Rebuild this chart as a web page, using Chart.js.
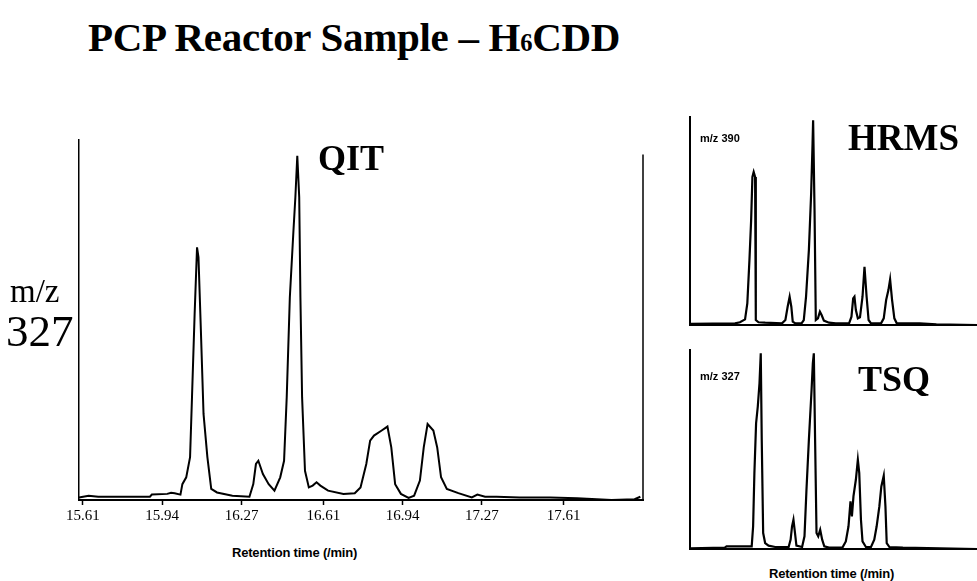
<!DOCTYPE html>
<html>
<head>
<meta charset="utf-8">
<script src="https://cdn.jsdelivr.net/npm/chart.js@4.4.0/dist/chart.umd.min.js"></script>
<style>
  body { margin: 0; background: #fff; }
  #page { position: relative; width: 977px; height: 581px; overflow: hidden; background: #fff; }
  canvas { position: absolute; }
  .lbl { position: absolute; line-height: 1; white-space: nowrap; color: #000; z-index: 2; }
  .serif { font-family: "Liberation Serif", "Times New Roman", serif; }
  .sans { font-family: "Liberation Sans", Arial, sans-serif; font-weight: bold; }
</style>
</head>
<body>
<div id="page">
  <div class="lbl serif" style="left:88px; top:17px; font-size:41px; font-weight:bold; letter-spacing:-0.3px;">PCP Reactor Sample – H<span style="font-size:0.6em;">6</span>CDD</div>
  <div class="lbl serif" style="left:318px; top:140px; font-size:36px; font-weight:bold;">QIT</div>
  <div class="lbl serif" style="left:848px; top:119px; font-size:37px; font-weight:bold;">HRMS</div>
  <div class="lbl serif" style="left:858px; top:361px; font-size:36px; font-weight:bold;">TSQ</div>
  <div class="lbl serif" style="left:10px; top:275px; font-size:33px;">m/z</div>
  <div class="lbl serif" style="left:6px; top:309px; font-size:45px;">327</div>
  <div class="lbl sans" style="left:700px; top:133px; font-size:11px;">m/z 390</div>
  <div class="lbl sans" style="left:700px; top:371px; font-size:11px;">m/z 327</div>
  <div class="lbl sans" style="left:232px; top:546px; font-size:13px; letter-spacing:-0.2px;">Retention time (/min)</div>
  <div class="lbl sans" style="left:769px; top:567px; font-size:13px; letter-spacing:-0.2px;">Retention time (/min)</div>

  <canvas id="qitChart" width="660" height="420" style="left:0px; top:120px;"></canvas>
  <canvas id="hrmsChart" width="307" height="240" style="left:670px; top:100px;"></canvas>
  <canvas id="tsqChart" width="307" height="225" style="left:670px; top:340px;"></canvas>
</div>
<script>
// QIT trace, m/z 327 (retention time in min, relative signal 0-100)
const qitTime = [
  15.594, 15.634, 15.674, 15.889, 15.897, 15.961, 15.977, 15.992, 16.016, 16.024,
  16.040, 16.056, 16.064, 16.075, 16.085, 16.091, 16.101, 16.112, 16.128, 16.144,
  16.168, 16.232, 16.303, 16.319, 16.330, 16.340, 16.359, 16.383, 16.407, 16.431,
  16.447, 16.458, 16.471, 16.486, 16.494, 16.502, 16.510, 16.515, 16.522, 16.534,
  16.550, 16.566, 16.582, 16.598, 16.630, 16.694, 16.741, 16.765, 16.789, 16.805,
  16.821, 16.853, 16.877, 16.893, 16.909, 16.933, 16.965, 16.988, 17.012, 17.028,
  17.044, 17.068, 17.084, 17.100, 17.124, 17.172, 17.228, 17.251, 17.283, 17.331,
  17.427, 17.554, 17.666, 17.809, 17.905, 17.929
];
const qitSignal = [
  0.7, 1.2, 0.9, 0.9, 1.5, 1.7, 2.0, 1.9, 1.5, 4.4,
  6.3, 11.9, 28.5, 51.7, 70.2, 67.4, 47.0, 23.9, 11.9, 3.1,
  2.1, 1.2, 0.9, 4.4, 10.0, 10.9, 7.2, 4.4, 2.6, 6.3,
  10.9, 28.5, 56.3, 74.8, 84.1, 95.6, 84.1, 56.3, 28.5, 8.1,
  3.5, 4.0, 4.9, 4.0, 2.6, 1.7, 1.9, 3.5, 10.0, 16.5,
  17.9, 19.3, 20.4, 14.6, 4.4, 1.7, 0.6, 1.2, 5.4, 14.6,
  21.1, 19.3, 14.6, 6.3, 3.1, 1.9, 0.7, 1.5, 0.9, 0.9,
  0.7, 0.7, 0.5, 0.0, 0.2, 0.9
];
const qitTicks = [15.61, 15.94, 16.27, 16.61, 16.94, 17.27, 17.61];
const qitTickLabels = ["15.61", "15.94", "16.27", "16.61", "16.94", "17.27", "17.61"];

// HRMS trace, m/z 390
const hrmsTime = [
  15.636, 15.950, 15.985, 16.021, 16.037, 16.052, 16.064, 16.073, 16.082, 16.092,
  16.097, 16.116, 16.163, 16.282, 16.306, 16.322, 16.336, 16.348, 16.358, 16.377,
  16.420, 16.436, 16.452, 16.472, 16.488, 16.498, 16.502, 16.512, 16.521, 16.536,
  16.550, 16.562, 16.578, 16.614, 16.662, 16.756, 16.773, 16.785, 16.794, 16.804,
  16.818, 16.833, 16.851, 16.865, 16.880, 16.894, 16.911, 16.982, 17.001, 17.018,
  17.034, 17.046, 17.060, 17.076, 17.093, 17.136, 17.255, 17.373, 17.660
];
const hrmsSignal = [
  0.5, 0.8, 1.3, 2.7, 10.4, 31.2, 50.4, 71.2, 73.6, 71.2,
  2.4, 1.3, 1.1, 0.8, 2.4, 8.8, 13.6, 8.8, 1.6, 0.8,
  0.8, 2.4, 13.6, 36.0, 63.2, 87.2, 98.4, 55.2, 2.4, 3.2,
  6.4, 4.8, 2.1, 1.1, 0.8, 0.8, 4.0, 12.8, 13.6, 7.2,
  3.2, 3.7, 13.6, 28.0, 13.6, 2.4, 0.8, 0.8, 3.2, 12.0,
  16.8, 21.9, 12.0, 3.2, 0.8, 0.8, 0.8, 0.3, 0.0
];

// TSQ trace, m/z 327
const tsqTime = [
  15.629, 15.878, 15.890, 16.068, 16.078, 16.087, 16.099, 16.111, 16.123, 16.132,
  16.139, 16.149, 16.163, 16.187, 16.234, 16.329, 16.343, 16.353, 16.363, 16.374,
  16.384, 16.424, 16.441, 16.455, 16.472, 16.491, 16.500, 16.507, 16.516, 16.526,
  16.538, 16.552, 16.566, 16.581, 16.614, 16.709, 16.733, 16.752, 16.766, 16.776,
  16.787, 16.804, 16.818, 16.828, 16.840, 16.851, 16.875, 16.911, 16.934, 16.951,
  16.970, 16.984, 17.001, 17.013, 17.022, 17.041, 17.136, 17.660
];
const tsqSignal = [
  0.3, 0.7, 1.3, 1.3, 11.4, 38.1, 63.2, 71.6, 83.3, 98.3,
  54.8, 8.0, 3.0, 1.7, 1.0, 1.0, 4.7, 11.4, 14.7, 8.0,
  1.7, 1.0, 6.4, 29.8, 54.8, 79.9, 93.3, 98.3, 54.8, 8.0,
  6.4, 9.7, 4.7, 1.3, 0.7, 0.7, 3.8, 11.4, 23.9, 16.4,
  26.4, 34.8, 44.8, 38.1, 14.7, 3.8, 1.0, 1.0, 4.7, 11.4,
  21.4, 31.4, 36.8, 21.4, 3.0, 1.0, 0.7, 0.0
];

function toPoints(xs, ys) {
  return xs.map((x, i) => ({ x: x, y: ys[i] }));
}

// right-hand frame line of the QIT plot (shorter than the left axis)
const frameLine = {
  id: "frameLine",
  afterDraw(chart) {
    const { ctx, chartArea, scales } = chart;
    ctx.save();
    ctx.strokeStyle = "#000";
    ctx.lineWidth = 1.5;
    ctx.beginPath();
    ctx.moveTo(chartArea.right, scales.y.getPixelForValue(96));
    ctx.lineTo(chartArea.right, chartArea.bottom);
    ctx.stroke();
    ctx.restore();
  }
};

new Chart(document.getElementById("qitChart"), {
  type: "line",
  data: {
    datasets: [{
      data: toPoints(qitTime, qitSignal),
      borderColor: "#000",
      borderWidth: 2,
      pointRadius: 0,
      tension: 0,
      clip: false
    }]
  },
  options: {
    responsive: false,
    animation: false,
    layout: { padding: { left: 79, top: 20, right: 17, bottom: 10 } },
    plugins: { legend: { display: false }, tooltip: { enabled: false } },
    scales: {
      x: {
        type: "linear",
        min: 15.594,
        max: 17.94,
        afterBuildTicks: s => { s.ticks = qitTicks.map(v => ({ value: v })); },
        afterFit: s => { s.height = 30; },
        ticks: {
          autoSkip: false,
          maxRotation: 0,
          padding: 2,
          color: "#000",
          font: { family: "Liberation Serif", size: 15 },
          callback: (v, i) => qitTickLabels[i]
        },
        grid: { drawOnChartArea: false, drawTicks: true, tickLength: 5, tickWidth: 1.5, tickColor: "#000" },
        border: { display: true, color: "#000", width: 2 }
      },
      y: {
        min: 0,
        max: 100,
        afterFit: s => { s.width = 0; },
        ticks: { display: false },
        grid: { display: false },
        border: { display: true, color: "#000", width: 1.5 }
      }
    }
  },
  plugins: [frameLine]
});

function panelChart(id, xs, ys, pad) {
  return new Chart(document.getElementById(id), {
    type: "line",
    data: {
      datasets: [{
        data: toPoints(xs, ys),
        borderColor: "#000",
        borderWidth: 2.2,
        pointRadius: 0,
        tension: 0
      }]
    },
    options: {
      responsive: false,
      animation: false,
      layout: { padding: pad },
      plugins: { legend: { display: false }, tooltip: { enabled: false } },
      scales: {
        x: {
          type: "linear",
          min: 15.632,
          max: 17.66,
          afterFit: s => { s.height = 0; },
          ticks: { display: false },
          grid: { display: false },
          border: { display: true, color: "#000", width: 2 }
        },
        y: {
          min: 0,
          max: 100,
          afterFit: s => { s.width = 0; },
          ticks: { display: false },
          grid: { display: false },
          border: { display: true, color: "#000", width: 2 }
        }
      }
    }
  });
}

panelChart("hrmsChart", hrmsTime, hrmsSignal, { left: 20, top: 17, right: 0, bottom: 15 });
panelChart("tsqChart", tsqTime, tsqSignal, { left: 20, top: 10, right: 0, bottom: 16 });
</script>
</body>
</html>
